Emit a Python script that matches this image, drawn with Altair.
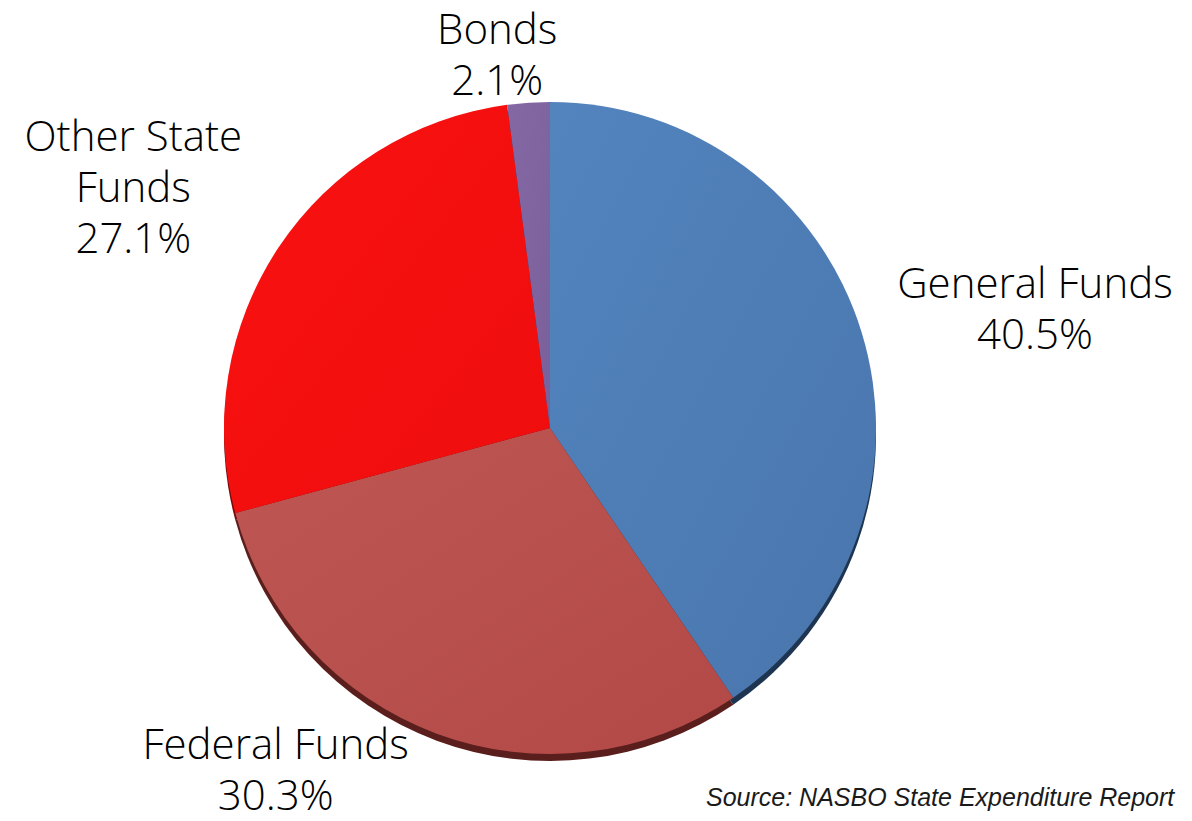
import altair as alt
import pandas as pd

# ---- data ----
categories = ["General Funds", "Federal Funds", "Other State Funds", "Bonds"]
shares = [40.5, 30.3, 27.1, 2.1]
label_text = ["General Funds", "Federal Funds", "Other State\nFunds", "Bonds"]
face_light = ["#5384BE", "#BE5754", "#FA1111", "#8468A4"]
face_dark = ["#4975AC", "#B24946", "#EE0D0D", "#7A609B"]
rim_colors = ["#1E3552", "#5A1E1C", "#7A0A0A", "#3F3152"]
source_note = ["Source: NASBO State Expenditure Report"]

df = pd.DataFrame({
    "category": categories,
    "share": shares,
    "idx": list(range(len(categories))),
    "label": label_text,
})
total = sum(shares)

W, H = 1176, 805
CX, CY, R = 542, 420, 326

theta_scale = alt.Scale(domain=[0, total])
base = alt.Chart(df).transform_window(
    cum="sum(share)", sort=[alt.SortField("idx")]
).transform_calculate(
    start="datum.cum - datum.share",
    mid="datum.cum - datum.share / 2",
    txt="datum.label + '\\n' + format(datum.share, '.1f') + '%'",
)

rim = alt.Chart(df).mark_arc(radius=R).encode(
    theta=alt.Theta("share:Q", stack=True, scale=theta_scale),
    order=alt.Order("idx:Q"),
    fill=alt.Fill("category:N", scale=alt.Scale(domain=categories, range=rim_colors), legend=None),
    x=alt.value(CX), y=alt.value(CY + 7),
)

slice_layers = []
for i, cat in enumerate(categories):
    grad = alt.LinearGradient(
        gradient="linear",
        stops=[alt.GradientStop(color=face_light[i], offset=0),
               alt.GradientStop(color=face_dark[i], offset=1)],
        x1=0, x2=1, y1=0, y2=1,
    )
    slice_layers.append(
        base.transform_filter(alt.datum.category == cat).mark_arc(radius=R, fill=grad).encode(
            theta=alt.Theta("start:Q", scale=theta_scale),
            theta2="cum:Q",
            x=alt.value(CX), y=alt.value(CY),
        )
    )

# label layout (radius from centre, pixel nudges)
label_layout = {
    "General Funds": (498, 9, 3),
    "Federal Funds": (421, -128, -77),
    "Other State Funds": (479, -18, -25),
    "Bonds": (376, -28, -22),
}

label_layers = []
for cat in categories:
    r, dx, dy = label_layout[cat]
    label_layers.append(
        base.transform_filter(alt.datum.category == cat).mark_text(
            radius=r, dx=dx, dy=dy, fontSize=42, font="Open Sans", fontWeight=300,
            lineBreak="\n", lineHeight=51, align="center", baseline="middle", color="#000000",
        ).encode(
            theta=alt.Theta("mid:Q", stack=False, scale=theta_scale),
            text="txt:N",
            x=alt.value(CX), y=alt.value(CY),
        )
    )

note = alt.Chart(pd.DataFrame({"note": source_note})).mark_text(
    font="Liberation Sans", fontStyle="italic", fontSize=25, color="#1a1a1a",
    align="left", baseline="alphabetic",
).encode(text="note:N", x=alt.value(698), y=alt.value(798))

chart = alt.layer(rim, *slice_layers, *label_layers, note).resolve_scale(
    fill="independent"
).properties(
    width=W, height=H, autosize=alt.AutoSizeParams(type="none"), padding=0,
).configure_view(stroke=None)

chart.save("out.html", embed_options={"renderer": "svg", "actions": False})
